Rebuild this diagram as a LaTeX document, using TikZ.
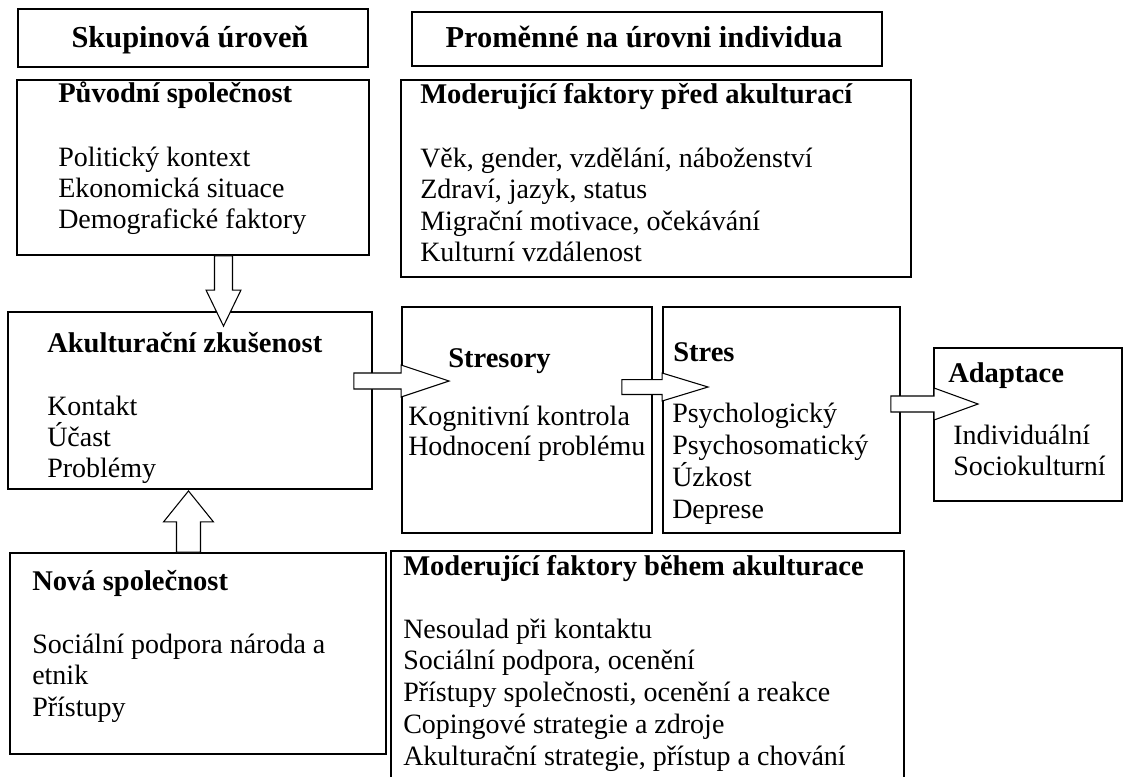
\documentclass[tikz,border=0pt]{standalone}
\usepackage{fontspec}
\setmainfont{Liberation Serif}
\usetikzlibrary{calc,fit}

% one unit = one pixel of the 1127 x 776 canvas, y growing downwards
\tikzset{
  x=0.75pt, y=-0.75pt,
  box/.style={draw=black, line width=1.4pt, inner sep=0pt, fit={#1}},
  hdr/.style={font=\fontsize{22.8}{27}\selectfont\bfseries, anchor=base, inner sep=0pt},
  ttl/.style={font=\fontsize{21.4}{25}\selectfont\bfseries, anchor=base west, inner sep=0pt},
  itm/.style={font=\fontsize{21}{25}\selectfont, anchor=base west, inner sep=0pt},
  % hollow block arrow drawn between two points
  bshaft/.store in=\bsw, bhead/.store in=\bhw, blen/.store in=\bhl,
  bshaft=6pt, bhead=12pt, blen=30pt,
  hollow/.style={draw=black, fill=white, line width=0.8pt, line join=miter,
    to path={let \p3=($(\tikztotarget)!\bhl!(\tikztostart)$) in
      ($(\tikztostart)!\bsw!90:(\tikztotarget)$)
      -- ($(\p3)!\bsw!90:(\tikztotarget)$)
      -- ($(\p3)!\bhw!90:(\tikztotarget)$)
      -- (\tikztotarget)
      -- ($(\p3)!\bhw!-90:(\tikztotarget)$)
      -- ($(\p3)!\bsw!-90:(\tikztotarget)$)
      -- ($(\tikztostart)!\bsw!-90:(\tikztotarget)$)
      -- cycle}}
}

% a column of text lines inside a box
\newcommand\boxlines[5]{%
  \foreach \t [count=\i] in {#5}
    \node[itm] (#1\i) at (#2, {#3+#4*(\i-1)}) {\t};}

\begin{document}
\begin{tikzpicture}
\path[use as bounding box, fill=white] (0,0) rectangle (1127,776);
\clip (0,0) rectangle (1127,776);

% boxes
\node[box={(18,9) (368,67)}] (hdr1) {};
\node[box={(412,12) (882,66)}] (hdr2) {};
\node[box={(17,80) (369,255)}] (puv) {};
\node[box={(401,80) (911,277)}] (mpred) {};
\node[box={(8,312) (372,489)}] (akk) {};
\node[box={(402,307) (652,533)}] (str) {};
\node[box={(663,307) (900,533)}] (stres) {};
\node[box={(934,348) (1122,501)}] (adapt) {};
\node[box={(10,553) (386,754)}] (nova) {};
\node[box={(391,551) (904,800)}] (mbeh) {};

% block arrows
\coordinate (d1s) at (puv.south -| 223.5,0);
\coordinate (d1t) at ($(akk.north -| 223.5,0)+(0,15)$);
\draw[hollow, bshaft=6.75pt, bhead=13.1pt, blen=27pt] (d1s) to (d1t);

\coordinate (u1s) at (nova.north -| 188.5,0);
\coordinate (u1t) at ($(akk.south -| 188.5,0)+(0,1)$);
\draw[hollow, bshaft=9pt, bhead=18.75pt, blen=23.25pt] (u1s) to (u1t);

\coordinate (a1s) at ($(akk.east |- 0,381)+(-19,0)$);
\coordinate (a1t) at ($(str.west |- 0,381)+(48,0)$);
\draw[hollow, bshaft=6pt, bhead=12pt, blen=36pt] (a1s) to (a1t);

\coordinate (a2s) at ($(str.east |- 0,387)+(-31,0)$);
\coordinate (a2t) at ($(stres.west |- 0,387)+(46,0)$);
\draw[hollow, bshaft=5.6pt, bhead=10.5pt, blen=34.5pt] (a2s) to (a2t);

\coordinate (a3s) at ($(stres.east |- 0,404)+(-10,0)$);
\coordinate (a3t) at ($(adapt.west |- 0,404)+(45,0)$);
\draw[hollow, bshaft=6pt, bhead=12pt, blen=33pt] (a3s) to (a3t);

% headings
\node[hdr] (hdr1t) at (190,47) {Skupinová úroveň};
\node[hdr] (hdr2t) at (644,47) {Proměnné na úrovni individua};

% Původní společnost
\node[ttl] (puvt) at (58,102) {Původní společnost};
\boxlines{puv}{58}{166}{31}{Politický kontext, Ekonomická situace, Demografické faktory}

% Moderující faktory před akulturací
\node[ttl] (mpredt) at (420,103) {Moderující faktory před akulturací};
\boxlines{mpred}{420}{167}{31.5}{{Věk, gender, vzdělání, náboženství}, {Zdraví, jazyk, status}, {Migrační motivace, očekávání}, Kulturní vzdálenost}

% Akulturační zkušenost
\node[ttl] (akkt) at (47,352) {Akulturační zkušenost};
\boxlines{akk}{47}{415}{31}{Kontakt, Účast, Problémy}

% Stresory
\node[ttl] (strt) at (448,367) {Stresory};
\boxlines{str}{408}{425}{30}{Kognitivní kontrola, Hodnocení problému}

% Stres
\node[ttl] (strest) at (673,361) {Stres};
\boxlines{stres}{672}{422}{32}{Psychologický, Psychosomatický, Úzkost, Deprese}

% Adaptace
\node[ttl] (adaptt) at (948,382) {Adaptace};
\boxlines{adapt}{953}{444}{31}{Individuální, Sociokulturní}

% Nová společnost
\node[ttl] (novat) at (32,590) {Nová společnost};
\boxlines{nova}{32}{653}{31.5}{Sociální podpora národa a, etnik, Přístupy}

% Moderující faktory během akulturace
\node[ttl] (mbeht) at (403,575) {Moderující faktory během akulturace};
\boxlines{mbeh}{403}{638}{31.75}{Nesoulad při kontaktu, {Sociální podpora, ocenění}, {Přístupy společnosti, ocenění a reakce}, Copingové strategie a zdroje, {Akulturační strategie, přístup a chování}}
\end{tikzpicture}
\end{document}
